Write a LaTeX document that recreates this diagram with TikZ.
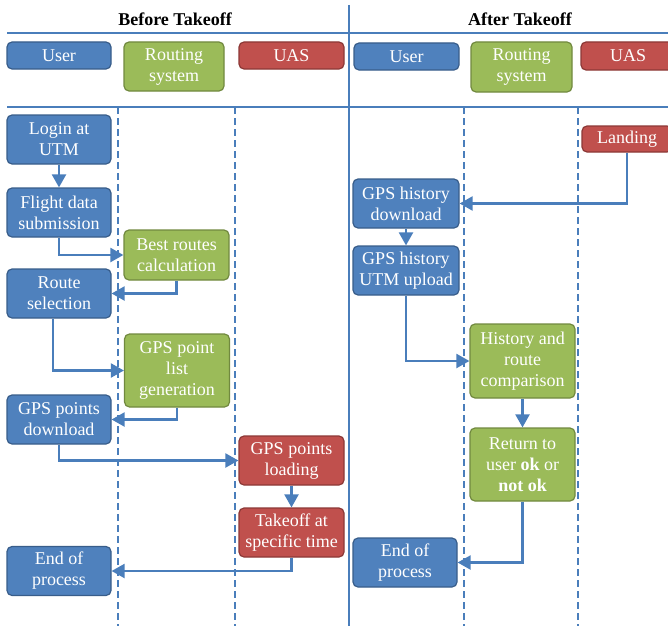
\documentclass[tikz,border=0pt]{standalone}
\usepackage{fontspec}
\setmainfont{Liberation Serif}
\usetikzlibrary{arrows.meta}
\definecolor{userfill}{HTML}{4F81BD}
\definecolor{userdraw}{HTML}{385D8A}
\definecolor{routefill}{HTML}{9BBB59}
\definecolor{routedraw}{HTML}{71893F}
\definecolor{uasfill}{HTML}{C0504D}
\definecolor{uasdraw}{HTML}{8C3836}
\definecolor{lineblue}{HTML}{4A7EBB}

\begin{document}
\begin{tikzpicture}[x=1pt, y=-1pt,
		box/.style={rounded corners=5pt, line width=1.2pt, text=white, align=center, inner sep=0pt,
			minimum width=105pt, minimum height=49pt, font=\fontsize{18}{21}\selectfont},
		userbox/.style={box, fill=userfill, draw=userdraw},
		routebox/.style={box, fill=routefill, draw=routedraw},
		uasbox/.style={box, fill=uasfill, draw=uasdraw},
		head/.style={minimum height=27pt},
		tall/.style={minimum height=73pt}]
		\useasboundingbox (0,0) rectangle (668,626);
		% titles and lanes
		\node[font=\fontsize{18}{20}\selectfont\bfseries] (before) at (175,19) {Before Takeoff};
		\node[font=\fontsize{18}{20}\selectfont\bfseries] (after) at (520,19) {After Takeoff};
		\begin{scope}[draw=lineblue, line width=1.8pt]
			\draw (7,33) -- (668,33);
			\draw (7,107) -- (668,107);
			\draw (349,5) -- (349,626);
			\foreach \x in {118,235,464,578}
			\draw[dash pattern=on 7pt off 4pt] (\x,107) -- (\x,626);
		\end{scope}
		% lane headers
		\node[userbox, head, minimum width=104pt] (userA) at (59,55.5) {User};
		\node[routebox, minimum width=100pt] (routA) at (174,66.5) {Routing\\system};
		\node[uasbox, head] (uasA) at (291.5,55.5) {UAS};
		\node[userbox, head] (userB) at (406.5,56.5) {User};
		\node[routebox, minimum width=101pt, minimum height=50pt] (routB) at (521.5,67) {Routing\\system};
		\node[uasbox, head, minimum width=94pt, minimum height=28pt] (uasB) at (628,56) {UAS};
		% before takeoff
		\node[userbox, minimum width=104pt] (login) at (59,139.5) {Login at\\UTM};
		\node[userbox, minimum width=104pt] (flight) at (59,212.5) {Flight data\\submission};
		\node[routebox, minimum height=50pt] (best) at (176.5,255) {Best routes\\calculation};
		\node[userbox, minimum width=104pt] (route) at (59,293.5) {Route\\selection};
		\node[routebox, tall] (list) at (177,370.5) {GPS point\\list\\generation};
		\node[userbox, minimum width=104pt] (pointdl) at (59,419.5) {GPS points\\download};
		\node[uasbox] (loading) at (291.5,460.5) {GPS points\\loading};
		\node[uasbox] (takeoff) at (291.5,532.5) {Takeoff at\\specific time};
		\node[userbox, minimum width=104pt] (endA) at (59,571) {End of\\process};
		% after takeoff
		\node[uasbox, minimum width=90pt, minimum height=26pt] (landing) at (627,139) {Landing};
		\node[userbox, minimum width=106pt] (histdl) at (406,203.5) {GPS history\\download};
		\node[userbox, minimum width=106pt] (upload) at (406,270.5) {GPS history\\UTM upload};
		\node[routebox, minimum height=74pt] (compare) at (522.5,361) {History and\\route\\comparison};
		\node[routebox, tall] (reply) at (522.5,464.5) {Return to\\user \textbf{ok} or\\\textbf{not ok}};
		\node[userbox, minimum width=104pt] (endB) at (405,562.5) {End of\\process};
		% flow
		\begin{scope}[draw=lineblue, line width=2.2pt, -{Triangle[length=13pt,width=14pt]}]
			\draw (login) -- (flight);
			\draw (flight.south) |- (best.west);
			\draw (best.south) |- (route.east);
			\draw ([xshift=-6pt]route.south) |- (list.west);
			\draw (list.south) |- (pointdl.east);
			\draw (pointdl.south) |- (loading.west);
			\draw (loading) -- (takeoff);
			\draw (takeoff.south) |- (endA.east);
			\draw (landing.south) |- (histdl.east);
			\draw (histdl) -- (upload);
			\draw (upload.south) |- (compare.west);
			\draw (compare) -- (reply);
			\draw (reply.south) |- (endB.east);
		\end{scope}
	\end{tikzpicture}
\end{document}
